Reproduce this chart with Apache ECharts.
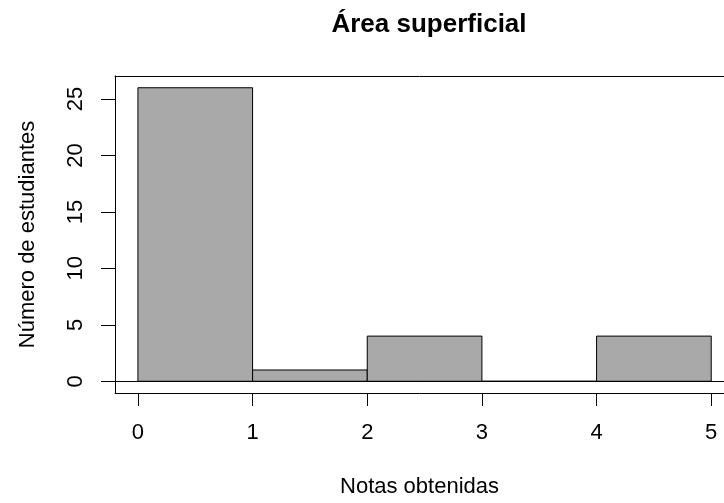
<!DOCTYPE html>
<html>
<head>
<meta charset="utf-8">
<script src="https://cdn.jsdelivr.net/npm/echarts@6/dist/echarts.min.js"></script>
<style>html,body{margin:0;padding:0;background:#fff;}#c{width:724px;height:503px;}</style>
</head>
<body>
<div id="c"></div>
<script>
var binStarts = [0, 1, 2, 3, 4];
var binEnds = [1, 2, 3, 4, 5];
var counts = [26, 1, 4, 0, 4];
var xTicks = [0, 1, 2, 3, 4, 5];
var yTicks = [0, 5, 10, 15, 20, 25];
var titleText = 'Área superficial';
var xName = 'Notas obtenidas';
var yName = 'Número de estudiantes';

var data = binStarts.map(function (s, i) { return [s, binEnds[i], counts[i]]; });
var font = 'Liberation Sans, Arial, Helvetica, sans-serif';
var pxPerUnit = 114.66;
var gridLeft = 115;
var gridWidth = 724 - gridLeft;
var xMin = -0.2;
var xMax = xMin + gridWidth / pxPerUnit;

var chart = echarts.init(document.getElementById('c'), null, { renderer: 'canvas' });
chart.setOption({
  animation: false,
  backgroundColor: '#ffffff',
  title: {
    text: titleText,
    left: 424,
    textAlign: 'center',
    top: 7,
    textStyle: { fontFamily: font, fontWeight: 'bold', fontSize: 26, color: '#000' }
  },
  grid: {
    left: gridLeft, top: 76, width: gridWidth, height: 320,
    show: false, containLabel: false
  },
  xAxis: [{
    type: 'value', min: xMin, max: xMax,
    name: xName, nameLocation: 'middle', nameGap: 83,
    nameTextStyle: { fontFamily: font, fontSize: 22, color: '#000' },
    axisLine: { show: true, onZero: false, lineStyle: { color: '#000', width: 1 } },
    axisTick: { show: true, length: 13, customValues: xTicks, lineStyle: { color: '#000' } },
    axisLabel: { customValues: xTicks, margin: 29, fontFamily: font, fontSize: 22, color: '#000' },
    splitLine: { show: false }
  }, {
    type: 'value', min: xMin, max: xMax, position: 'top',
    axisLine: { show: true, onZero: false, lineStyle: { color: '#000', width: 1 } },
    axisTick: { show: false }, axisLabel: { show: false }, splitLine: { show: false }
  }],
  yAxis: {
    type: 'value', min: -1.04, max: 27.04,
    name: yName, nameLocation: 'middle', nameGap: 76,
    nameTextStyle: { fontFamily: font, fontSize: 22, color: '#000' },
    axisLine: { show: true, onZero: false, lineStyle: { color: '#000', width: 1 } },
    axisTick: { show: true, length: 14, customValues: yTicks, lineStyle: { color: '#000' } },
    axisLabel: { customValues: yTicks, rotate: 90, margin: 28, fontFamily: font, fontSize: 22, color: '#000' },
    splitLine: { show: false }
  },
  series: [{
    type: 'custom',
    data: data,
    clip: false,
    encode: { x: [0, 1], y: 2 },
    renderItem: function (params, api) {
      var p0 = api.coord([api.value(0), api.value(2)]);
      var p1 = api.coord([api.value(1), 0]);
      return {
        type: 'rect',
        shape: { x: p0[0], y: p0[1], width: p1[0] - p0[0], height: p1[1] - p0[1] },
        style: { fill: '#a9a9a9', stroke: '#000', lineWidth: 1 }
      };
    },
    markLine: {
      silent: true, symbol: 'none', label: { show: false },
      lineStyle: { color: '#000', width: 1, type: 'solid' },
      data: [{ yAxis: 0 }]
    }
  }]
});
</script>
</body>
</html>
